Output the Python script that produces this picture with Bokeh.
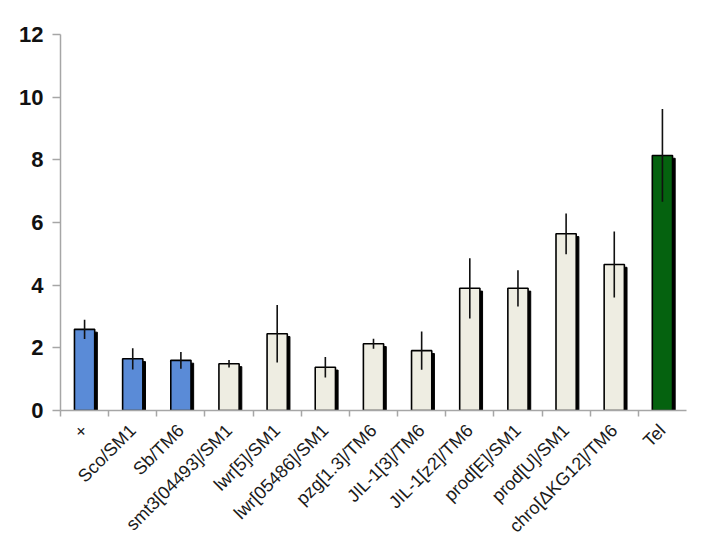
import math
from bokeh.plotting import figure
from bokeh.models import ColumnDataSource, Range1d, FixedTicker, CustomJSTickFormatter
from bokeh.transform import dodge
from bokeh.embed import file_html
from bokeh.resources import INLINE

categories = ["+", "Sco/SM1", "Sb/TM6", "smt3[04493]/SM1", "lwr[5]/SM1",
              "lwr[05486]/SM1", "pzg[1.3]/TM6", "JIL-1[3]/TM6", "JIL-1[z2]/TM6",
              "prod[E]/SM1", "prod[U]/SM1", "chro[\u0394KG12]/TM6", "Tel"]
values = [2.59, 1.65, 1.60, 1.49, 2.45, 1.38, 2.13, 1.91, 3.90, 3.90, 5.64, 4.66, 8.14]
errors = [0.31, 0.34, 0.27, 0.12, 0.92, 0.33, 0.16, 0.61, 0.96, 0.58, 0.65, 1.05, 1.48]
groups = ["control"] * 3 + ["mutant"] * 9 + ["tel"]
y_ticks = [0, 2, 4, 6, 8, 10, 12]

group_colors = {"control": "#5a8bd7", "mutant": "#eeede2", "tel": "#05620f"}

n = len(categories)
xs = [i + 0.5 for i in range(n)]
src = ColumnDataSource(dict(
    x=xs,
    top=values,
    shadow_top=[v - 0.09 for v in values],
    lo=[v - e for v, e in zip(values, errors)],
    hi=[v + e for v, e in zip(values, errors)],
    color=[group_colors[g] for g in groups],
))

p = figure(width=713, height=550, output_backend="svg", toolbar_location=None,
           x_range=Range1d(0, n), y_range=Range1d(0, 12),
           min_border_left=60, min_border_top=34, min_border_right=27,
           min_border_bottom=140)
p.outline_line_color = None
p.xgrid.visible = False
p.ygrid.visible = False

bw = 0.42
p.vbar(x=dodge("x", 0.055, range=p.x_range), top="shadow_top", bottom=0, width=bw,
       source=src, fill_color="black", line_color="black")
p.vbar(x="x", top="top", bottom=0, width=bw, source=src,
       fill_color="color", line_color="black", line_width=1.6)
p.segment(x0="x", x1="x", y0="lo", y1="hi", source=src,
          line_color="#111111", line_width=1.6)

axis_gray = "#a6a6a6"

xa = p.xaxis[0]
xa.ticker = FixedTicker(ticks=xs, minor_ticks=list(range(n)))
xa.formatter = CustomJSTickFormatter(args=dict(labels=categories),
                                     code="return labels[Math.floor(tick)];")
xa.major_label_orientation = math.pi / 4
xa.major_tick_out = 0
xa.major_tick_in = 0
xa.minor_tick_out = 6
xa.minor_tick_in = 0
xa.minor_tick_line_color = axis_gray
xa.minor_tick_line_width = 1.5
xa.axis_line_color = axis_gray
xa.axis_line_width = 1.5
xa.major_label_text_font = "Liberation Sans"
xa.major_label_text_font_size = "18px"
xa.major_label_text_color = "#1a1a1a"
xa.major_label_standoff = 11

ya = p.yaxis[0]
ya.ticker = FixedTicker(ticks=y_ticks)
ya.major_tick_out = 8
ya.major_tick_in = 0
ya.minor_tick_line_color = None
ya.major_tick_line_color = axis_gray
ya.major_tick_line_width = 1.5
ya.axis_line_color = axis_gray
ya.axis_line_width = 1.5
ya.major_label_text_font = "Liberation Sans"
ya.major_label_text_font_style = "bold"
ya.major_label_text_font_size = "22px"
ya.major_label_text_color = "#111111"
ya.major_label_standoff = 9

open("out.html", "w").write(file_html(p, INLINE))
